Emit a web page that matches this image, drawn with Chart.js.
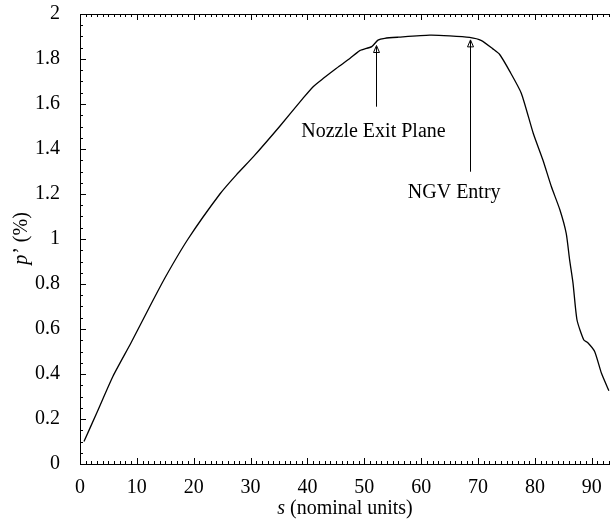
<!DOCTYPE html>
<html>
<head>
<meta charset="utf-8">
<script src="https://cdn.jsdelivr.net/npm/chart.js@4"></script>
<style>
  html, body { margin: 0; padding: 0; background: #fff; }
  #wrap { width: 610px; height: 521px; }
</style>
</head>
<body>
<div id="wrap"><canvas id="p_chart"></canvas></div>
<script>
// s (nominal units) and p' (%)
const sValues = [0.7, 3, 5.8, 9, 12, 15, 19, 24.6, 27.5, 30.5, 35.1, 39.2, 41, 42.8, 45.1, 47.5, 49.2,
  51.3, 52.4, 53.6, 56, 61.5, 65, 68.5, 70.6, 72.6, 73.8, 75.6, 77.6, 79.7, 81.4, 82.9, 84.4, 85.5,
  86.1, 86.7, 87.4, 88.6, 89.3, 90.5, 91.7, 93.0];
const pValues = [0.10, 0.23, 0.39, 0.54, 0.687, 0.83, 1.0, 1.2, 1.285, 1.366, 1.5, 1.625, 1.677, 1.714,
  1.759, 1.803, 1.837, 1.855, 1.884, 1.892, 1.897, 1.906, 1.903, 1.896, 1.882, 1.845, 1.82, 1.744,
  1.648, 1.47, 1.351, 1.232, 1.129, 1.025, 0.907, 0.803, 0.64, 0.551, 0.539, 0.50, 0.403, 0.326];

const xTicks = [0, 10, 20, 30, 40, 50, 60, 70, 80, 90];
const yTicks = [0, 0.2, 0.4, 0.6, 0.8, 1, 1.2, 1.4, 1.6, 1.8, 2];

// annotations: label, arrow s, arrow from/to p, text s, text p
const noteLabels = ['Nozzle Exit Plane', 'NGV Entry'];
const noteArrowS = [52.1, 68.5];
const noteArrowFrom = [1.588, 1.299];
const noteArrowTo = [1.86, 1.885];
const noteTextS = [51.6, 65.8];
const noteTextP = [1.452, 1.184];

const FONT = '"Liberation Serif", "Times New Roman", serif';
const FS = 20;

const framePlugin = {
  id: 'frame',
  afterDraw(chart) {
    const ctx = chart.ctx;
    const x = chart.scales.x;
    const y = chart.scales.y;
    const area = chart.chartArea;
    ctx.save();
    ctx.strokeStyle = '#000';
    ctx.lineWidth = 1;

    // frame (right side is off the picture)
    ctx.beginPath();
    ctx.moveTo(area.right, area.top + 0.5);
    ctx.lineTo(area.left + 0.5, area.top + 0.5);
    ctx.lineTo(area.left + 0.5, area.bottom + 0.5);
    ctx.lineTo(area.right, area.bottom + 0.5);
    ctx.stroke();

    // x ticks, bottom and top, inward
    ctx.beginPath();
    for (let i = 0; i <= Math.floor(x.max); i++) {
      const px = Math.round(x.getPixelForValue(i)) + 0.5;
      const len = i % 10 === 0 ? 6 : 3;
      ctx.moveTo(px, area.bottom);
      ctx.lineTo(px, area.bottom - len);
      ctx.moveTo(px, area.top);
      ctx.lineTo(px, area.top + len);
    }
    // y ticks, left, inward
    for (let i = 0; i <= 40; i++) {
      const py = Math.round(y.getPixelForValue(i * 0.05)) + 0.5;
      const len = i % 4 === 0 ? 6 : 3;
      ctx.moveTo(area.left, py);
      ctx.lineTo(area.left + len, py);
    }
    ctx.stroke();

    // annotations
    ctx.fillStyle = '#000';
    ctx.font = FS + 'px ' + FONT;
    ctx.textAlign = 'center';
    ctx.textBaseline = 'alphabetic';
    for (let i = 0; i < noteLabels.length; i++) {
      const ax = Math.round(x.getPixelForValue(noteArrowS[i])) + 0.5;
      const y0 = y.getPixelForValue(noteArrowFrom[i]);
      const y1 = y.getPixelForValue(noteArrowTo[i]);
      ctx.beginPath();
      ctx.moveTo(ax, y0);
      ctx.lineTo(ax, y1 + 1);
      ctx.stroke();
      ctx.beginPath();
      ctx.moveTo(ax, y1);
      ctx.lineTo(ax - 3, y1 + 7);
      ctx.lineTo(ax + 3, y1 + 7);
      ctx.closePath();
      ctx.stroke();
      ctx.fillText(noteLabels[i], x.getPixelForValue(noteTextS[i]), y.getPixelForValue(noteTextP[i]));
    }

    // axis titles with italic symbols
    ctx.textAlign = 'left';
    const cx = (area.left + area.right) / 2;
    ctx.font = 'italic ' + FS + 'px ' + FONT;
    const wS = ctx.measureText('s').width;
    ctx.font = FS + 'px ' + FONT;
    const wRest = ctx.measureText(' (nominal units)').width;
    let tx = cx - (wS + wRest) / 2;
    ctx.font = 'italic ' + FS + 'px ' + FONT;
    ctx.fillText('s', tx, 514);
    ctx.font = FS + 'px ' + FONT;
    ctx.fillText(' (nominal units)', tx + wS, 514);

    const cy = (area.top + area.bottom) / 2;
    ctx.translate(27, cy);
    ctx.rotate(-Math.PI / 2);
    ctx.font = 'italic ' + FS + 'px ' + FONT;
    const wP = ctx.measureText('p').width;
    ctx.font = FS + 'px ' + FONT;
    const wRest2 = ctx.measureText('\u2019 (%)').width;
    tx = -(wP + wRest2) / 2;
    ctx.font = 'italic ' + FS + 'px ' + FONT;
    ctx.fillText('p', tx, 0);
    ctx.font = FS + 'px ' + FONT;
    ctx.fillText('\u2019 (%)', tx + wP + 1, 0);
    ctx.restore();
  }
};

new Chart(document.getElementById('p_chart'), {
  type: 'line',
  data: {
    datasets: [{
      data: sValues.map((s, i) => ({ x: s, y: pValues[i] })),
      borderColor: '#000',
      borderWidth: 1.3,
      pointRadius: 0,
      tension: 0.2,
      fill: false
    }]
  },
  options: {
    responsive: true,
    maintainAspectRatio: false,
    animation: false,
    layout: { padding: { top: 14, right: 0, bottom: 0, left: 0 } },
    plugins: { legend: { display: false }, tooltip: { enabled: false } },
    scales: {
      x: {
        type: 'linear',
        min: 0,
        max: 93.2,
        grid: { display: false },
        border: { display: false },
        afterBuildTicks: (scale) => { scale.ticks = xTicks.map(v => ({ value: v })); },
        afterFit: (scale) => { scale.height = 57; scale.paddingLeft = 0; scale.paddingRight = 0; },
        ticks: {
          color: '#000',
          font: { family: FONT, size: FS },
          padding: 4,
          maxRotation: 0,
          autoSkip: false
        }
      },
      y: {
        min: 0,
        max: 2,
        grid: { display: false },
        border: { display: false },
        afterBuildTicks: (scale) => { scale.ticks = yTicks.map(v => ({ value: v })); },
        afterFit: (scale) => { scale.width = 80; scale.paddingTop = 0; scale.paddingBottom = 0; },
        ticks: {
          color: '#000',
          font: { family: FONT, size: FS },
          padding: 12,
          autoSkip: false,
          callback: (v) => String(+v.toFixed(1))
        }
      }
    }
  },
  plugins: [framePlugin]
});
</script>
</body>
</html>
